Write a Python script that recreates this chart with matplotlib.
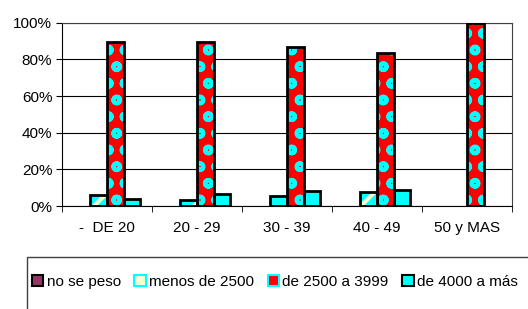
import matplotlib.pyplot as plt
import numpy as np
from matplotlib.patches import Rectangle, Patch

plt.rcParams['font.family'] = ['Liberation Sans', 'DejaVu Sans']
plt.rcParams['hatch.linewidth'] = 3

categories = ['-  DE 20', '20 - 29', '30 - 39', '40 - 49', '50 y MAS']
no_se_peso = [0, 0, 0, 0, 0]
menos_2500 = [6.2, 3.5, 5.3, 7.5, 0]
de_2500_3999 = [89.6, 89.6, 86.9, 83.6, 100]
de_4000 = [3.8, 6.8, 8.0, 9.0, 0]

fig = plt.figure(figsize=(5.28, 3.09), dpi=100)
ax = fig.add_axes([0.1174, 0.3333, 0.8523, 0.5932])

x = np.arange(len(categories))
w = 0.185
offsets = [-1.5 * w, -0.5 * w, 0.5 * w, 1.5 * w]


def draw(vals, off, face, hatch_col=None, hatch=None):
    vals = np.array(vals, dtype=float)
    keep = vals > 0
    if not keep.any():
        return
    xs = x[keep] + off
    hs = vals[keep]
    if hatch:
        ax.bar(xs, hs, w, color=face, edgecolor=hatch_col, hatch=hatch, linewidth=0, zorder=3)
        ax.bar(xs, hs, w, fill=False, edgecolor='black', linewidth=2, zorder=4)
    else:
        ax.bar(xs, hs, w, color=face, edgecolor='black', linewidth=2, zorder=3)


draw(no_se_peso, offsets[0], '#993366')
draw(menos_2500, offsets[1], '#00FFFF', '#FFFFCC', '/')
draw(de_2500_3999, offsets[2], '#FF0000', '#00FFFF', 'o')
draw(de_4000, offsets[3], '#00FFFF')

ax.set_xlim(-0.5, len(categories) - 0.5)
ax.set_ylim(0, 100)
ax.set_yticks(np.arange(0, 101, 20))
ax.set_yticklabels([f'{v}%' for v in range(0, 101, 20)], fontsize=11)
ax.yaxis.grid(True, color='black', linewidth=0.8, zorder=0)
ax.set_axisbelow(True)

ax.set_xticks(x)
ax.set_xticklabels(categories, fontsize=11)
ax.set_xticks(np.arange(-0.5, len(categories)), minor=True)
ax.tick_params(axis='x', which='major', length=0, pad=11)
ax.tick_params(axis='x', which='minor', length=4, color='black')
ax.tick_params(axis='y', length=4, color='black', pad=3)

for s in ['left', 'bottom']:
    ax.spines[s].set_color('black')
ax.spines['top'].set_color('#404040')
ax.spines['right'].set_color('#404040')

fig.patches.append(Rectangle((27 / 528, -0.1), 1.0, 1 - 257 / 309 + 0.1,
                             transform=fig.transFigure, fill=False,
                             edgecolor='#404040', linewidth=1))

handles = [
    Patch(facecolor='#993366', edgecolor='black', linewidth=1.5),
    Patch(facecolor='#FFFFCC', edgecolor='#00FFFF', linewidth=1.5),
    Patch(facecolor='#FF0000', edgecolor='#00FFFF', linewidth=1.5),
    Patch(facecolor='#00FFFF', edgecolor='black', linewidth=1.5),
]
labels = ['no se peso', 'menos de 2500', 'de 2500 a 3999', 'de 4000 a más']
fig.legend(handles, labels, loc='center left', bbox_to_anchor=(32 / 528, 1 - 282 / 309),
           ncol=4, frameon=False, fontsize=11, handlelength=0.75, handleheight=0.75,
           handletextpad=0.2, columnspacing=0.9, borderpad=0, borderaxespad=0)

fig.savefig('out.png', dpi=100)
